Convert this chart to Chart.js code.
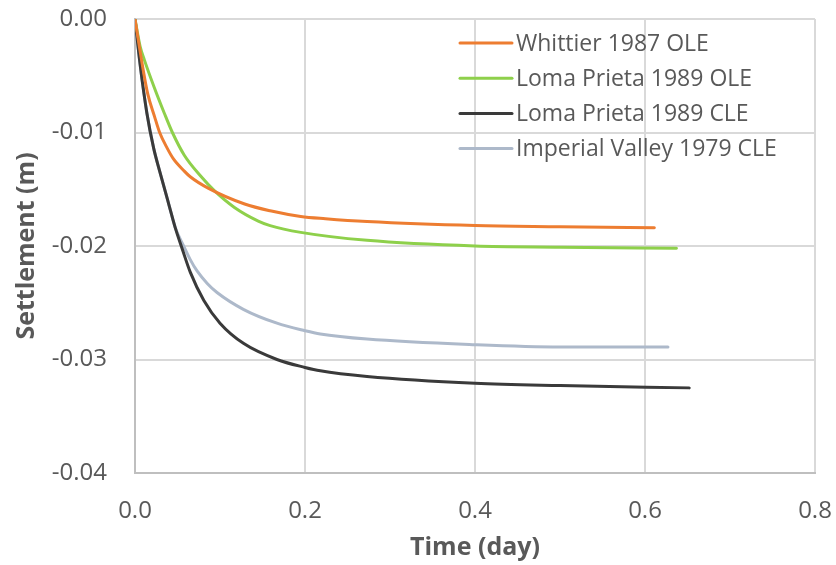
<!DOCTYPE html>
<html>
<head>
<meta charset="utf-8">
<script src="https://cdn.jsdelivr.net/npm/chart.js@4.4.0/dist/chart.umd.min.js"></script>
<style>
html,body{margin:0;padding:0;background:#fff;}
#wrap{width:836px;height:565px;position:relative;}
</style>
</head>
<body>
<div id="wrap"><canvas id="c" width="836" height="565"></canvas></div>
<script>
// ---- data ----
const seriesLabels = ["Whittier 1987 OLE", "Loma Prieta 1989 OLE", "Loma Prieta 1989 CLE", "Imperial Valley 1979 CLE"];
const seriesColors = ["#ED7D31", "#8ED04B", "#3A3A3A", "#ADB9CA"];

const whittierT = [0, 0.009, 0.015, 0.023, 0.029, 0.038, 0.045, 0.058, 0.065, 0.086, 0.129, 0.159, 0.195, 0.224, 0.273, 0.40, 0.50, 0.611];
const whittierS = [0, -0.0042, -0.0066, -0.0086, -0.0100, -0.0114, -0.0123, -0.0134, -0.0139, -0.0149, -0.0163, -0.0169, -0.0174, -0.0176, -0.01785, -0.0182, -0.0183, -0.0184];

const lomaOleT = [0, 0.006, 0.011, 0.023, 0.0345, 0.044, 0.058, 0.078, 0.093, 0.117, 0.145, 0.159, 0.195, 0.273, 0.40, 0.50, 0.637];
const lomaOleS = [0, -0.0024, -0.0036, -0.0061, -0.0083, -0.0100, -0.0120, -0.0139, -0.0151, -0.0166, -0.0178, -0.0182, -0.0188, -0.0195, -0.0200, -0.0201, -0.0202];

const lomaCleT = [0, 0.006, 0.014, 0.022, 0.029, 0.036, 0.0404, 0.0474, 0.0553, 0.065, 0.081, 0.100, 0.128, 0.167, 0.200, 0.218, 0.273, 0.40, 0.50, 0.652];
const lomaCleS = [0, -0.0040, -0.0083, -0.0114, -0.0134, -0.0153, -0.0165, -0.0184, -0.0202, -0.0223, -0.0248, -0.0268, -0.0286, -0.0300, -0.0307, -0.0310, -0.0315, -0.0321, -0.0323, -0.0325];

const imperialT = [0, 0.006, 0.014, 0.022, 0.029, 0.036, 0.0404, 0.0474, 0.0572, 0.065, 0.073, 0.085, 0.0965, 0.128, 0.167, 0.200, 0.218, 0.273, 0.40, 0.50, 0.627];
const imperialS = [0, -0.0040, -0.0083, -0.0114, -0.0134, -0.0153, -0.0165, -0.0184, -0.0200, -0.0212, -0.0222, -0.0233, -0.0241, -0.0256, -0.0268, -0.02746, -0.02775, -0.0282, -0.0287, -0.0289, -0.0289];

const xTitle = "Time (day)";
const yTitle = "Settlement (m)";

// ---- build ----
function pts(t, s){ return t.map((v,i)=>({x:v, y:s[i]})); }
const seriesData = [pts(whittierT, whittierS), pts(lomaOleT, lomaOleS), pts(lomaCleT, lomaCleS), pts(imperialT, imperialS)];

const FONT = "'Open Sans', 'Noto Sans', sans-serif";
Chart.defaults.font.family = FONT;
Chart.defaults.color = "#595959";

const insideLegend = {
  id: 'insideLegend',
  afterDatasetsDraw(chart){
    const ctx = chart.ctx;
    ctx.save();
    ctx.font = "23px " + FONT;
    ctx.textBaseline = "middle";
    ctx.textAlign = "left";
    const x0 = 460, x1 = 512, tx = 516, y0 = 43, dy = 35.2;
    chart.data.datasets.forEach((ds, i) => {
      const y = y0 + i*dy;
      ctx.strokeStyle = ds.borderColor;
      ctx.lineWidth = 3;
      ctx.lineCap = "round";
      ctx.beginPath(); ctx.moveTo(x0, y); ctx.lineTo(x1, y); ctx.stroke();
      ctx.fillStyle = "#595959";
      ctx.fillText(ds.label, tx, y + 1);
    });
    ctx.restore();
  }
};

new Chart(document.getElementById('c'), {
  type: 'line',
  data: {
    datasets: seriesData.map((d,i)=>({
      label: seriesLabels[i],
      data: d,
      borderColor: seriesColors[i],
      backgroundColor: seriesColors[i],
      borderWidth: 3,
      pointRadius: 0,
      fill: false,
      cubicInterpolationMode: 'monotone',
      borderCapStyle: 'round',
      borderJoinStyle: 'round'
    }))
  },
  options: {
    responsive: false,
    animation: false,
    layout: { padding: { top: 19, right: 21, left: 0, bottom: 0 } },
    plugins: { legend: { display: false }, tooltip: { enabled: false } },
    scales: {
      x: {
        type: 'linear', min: 0, max: 0.8,
        ticks: { stepSize: 0.2, padding: 0, font: { size: 24 }, color: "#595959",
                 callback: v => v.toFixed(1) },
        grid: { color: "#D9D9D9", lineWidth: 2, drawTicks: true, tickLength: 24, tickColor: "rgba(0,0,0,0)" },
        border: { color: "#BFBFBF", width: 2 },
        title: { display: true, text: xTitle, font: { size: 25, weight: 'bold' }, color: "#595959", padding: { top: 0, bottom: 2 } },
        afterFit(scale){ scale.height = 92; }
      },
      y: {
        type: 'linear', min: -0.04, max: 0,
        ticks: { stepSize: 0.01, padding: 0, font: { size: 24 }, color: "#595959",
                 callback: v => (Math.abs(v) < 1e-9 ? "0.00" : v.toFixed(2)) },
        grid: { color: "#D9D9D9", lineWidth: 2, drawTicks: true, tickLength: 28, tickColor: "rgba(0,0,0,0)" },
        border: { color: "#BFBFBF", width: 2 },
        title: { display: true, text: yTitle, font: { size: 25, weight: 'bold' }, color: "#595959", padding: { top: 12, bottom: 0 } },
        afterFit(scale){ scale.width = 135; }
      }
    }
  },
  plugins: [insideLegend]
});
</script>
</body>
</html>
